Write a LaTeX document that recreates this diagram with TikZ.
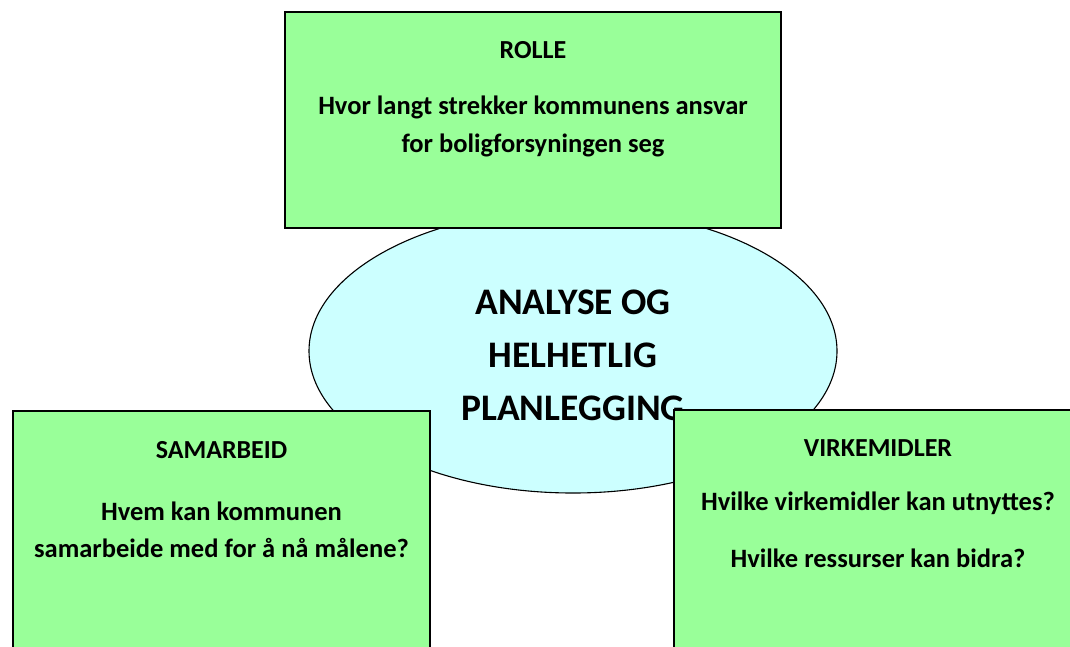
\documentclass[tikz,border=0pt]{standalone}
\usepackage{fontspec}
\setmainfont{Carlito}
\usetikzlibrary{shapes.geometric}
\definecolor{boxgreen}{HTML}{99FF99}
\definecolor{ellcyan}{HTML}{CCFFFF}
\tikzset{
  greenbox/.style={draw=black, line width=1.4pt, fill=boxgreen, rectangle, inner sep=0pt},
  centreell/.style={draw=black, line width=1.1pt, fill=ellcyan, ellipse, inner sep=0pt},
  title/.style={anchor=base, font=\fontsize{26}{30}\selectfont\bfseries, inner sep=0pt},
  body/.style={anchor=base, font=\fontsize{26.5}{31}\selectfont\bfseries, inner sep=0pt},
  big/.style={anchor=base, font=\fontsize{37.5}{44}\selectfont\bfseries, inner sep=0pt}
}
\begin{document}
\begin{tikzpicture}[x=1pt,y=-1pt]
\useasboundingbox (0,0) rectangle (1070,646);
\clip (0,0) rectangle (1070,646);
% centre ellipse
\node[centreell, minimum width=528pt, minimum height=284pt] (ell) at (573,351) {};
\node[big] (t1) at (573,314) {ANALYSE OG};
\node[big] (t2) at (573,367) {HELHETLIG};
\node[big] (t3) at (573,420) {PLANLEGGING};
% ROLLE
\node[greenbox, minimum width=496pt, minimum height=216pt] (rolle) at (533,120) {};
\node[title] (rt) at (533,58) {ROLLE};
\node[body] (r1) at (533,114) {Hvor langt strekker kommunens ansvar};
\node[body] (r2) at (533,152) {for boligforsyningen seg};
% SAMARBEID
\node[greenbox, minimum width=417pt, minimum height=260pt] (sam) at (221.5,541) {};
\node[title] (st) at (221.5,458) {SAMARBEID};
\node[body] (s1) at (221.5,520) {Hvem kan kommunen};
\node[body] (s2) at (221.5,557) {samarbeide med for å nå målene?};
% VIRKEMIDLER
\node[greenbox, minimum width=420pt, minimum height=260pt] (vir) at (884,540) {};
\node[title] (vt) at (878,456) {VIRKEMIDLER};
\node[body] (v1) at (878,510) {Hvilke virkemidler kan utnyttes?};
\node[body] (v2) at (878,567) {Hvilke ressurser kan bidra?};
\end{tikzpicture}
\end{document}
